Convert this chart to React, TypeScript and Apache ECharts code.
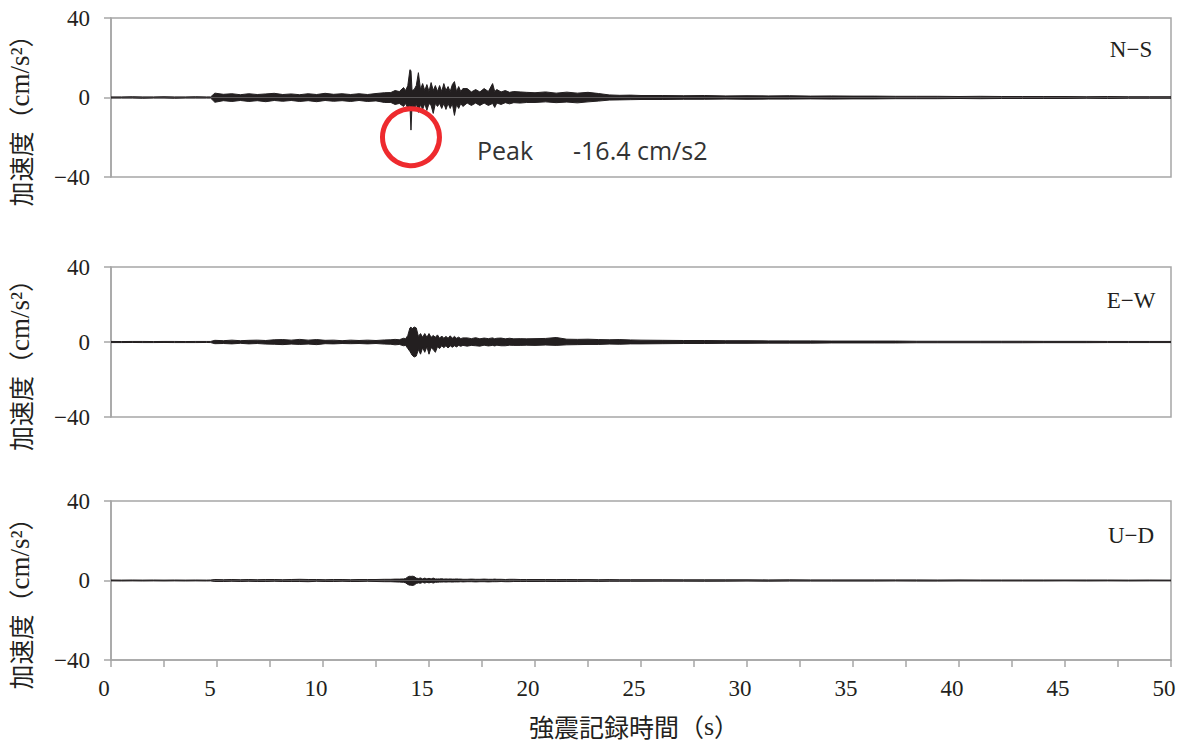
import React, { useEffect, useRef } from "react";
import * as echarts from "echarts";

// time knots (s)
const T = [
  0, 0.5, 1, 1.5, 2, 2.5, 3, 3.5, 4, 4.5, 4.7,
  4.9, 5.3, 5.7, 6.1, 6.5, 6.9, 7.3, 7.7, 8.1, 8.5, 8.9, 9.3, 9.7, 10.1, 10.5, 10.9, 11.3, 11.7, 12.1, 12.5, 12.9,
  13.2, 13.4, 13.6, 13.8, 13.9, 14.0, 14.1, 14.15, 14.2,
  14.3, 14.4, 14.5, 14.6, 14.7, 14.8, 14.9, 15.0, 15.1, 15.2, 15.3, 15.4,
  15.5, 15.6, 15.7, 15.8, 15.9, 16.0, 16.1, 16.2, 16.3, 16.4, 16.5, 16.6,
  16.8, 17.0, 17.2, 17.4, 17.6, 17.8, 18.0, 18.1, 18.2, 18.4, 18.6, 18.8, 19.0,
  19.3, 19.6,
  20, 20.5, 21, 21.5, 22, 22.5, 23, 23.5, 24, 24.5, 25,
  26, 27, 28, 29, 30, 31, 32, 33, 34, 35, 36, 37, 38, 39, 40, 41, 42, 43, 44, 45, 46, 47, 48, 49, 50,
];

// N-S upper / lower envelopes (cm/s2)
const nsUp = [
  0.3, 0.3, 0.4, 0.3, 0.3, 0.4, 0.3, 0.3, 0.4, 0.3, 0.3,
  2.2, 1.6, 1.9, 1.4, 1.9, 1.5, 1.8, 2.1, 1.5, 1.8, 1.4, 1.9, 1.5, 2.1, 1.6, 1.9, 1.5, 1.9, 1.5, 2.0, 2.4,
  2.5, 3.5, 3.0, 5.0, 3.5, 6.0, 14.0, 13.5, 3.5,
  4.0, 6.0, 12.5, 4.0, 7.0, 3.5, 6.5, 3.0, 7.5, 3.5, 6.0, 3.0,
  6.0, 3.0, 7.0, 3.5, 5.5, 3.0, 6.5, 8.0, 3.0, 5.5, 3.0, 4.5,
  4.5, 2.8, 4.0, 2.8, 4.5, 3.0, 7.0, 3.0, 4.0, 2.8, 3.5, 2.6, 3.0,
  2.8, 2.6,
  2.4, 2.8, 2.2, 2.7, 2.2, 2.6, 2.0, 1.3, 1.1, 1.2, 1.0,
  1.0, 0.9, 1.0, 0.8, 0.9, 0.8, 0.9, 0.7, 0.8, 0.7, 0.7, 0.6, 0.6, 0.6, 0.5, 0.6, 0.5, 0.5, 0.5, 0.5, 0.4, 0.5, 0.4, 0.4, 0.4,
];
const nsLo = [
  -0.3, -0.3, -0.3, -0.4, -0.3, -0.3, -0.4, -0.3, -0.3, -0.3, -0.3,
  -2.4, -1.6, -2.0, -1.5, -2.0, -1.6, -2.1, -1.5, -1.9, -1.5, -2.0, -1.6, -2.1, -1.5, -1.9, -1.6, -2.0, -1.5, -2.0, -1.7, -2.5,
  -2.5, -3.5, -3.0, -4.5, -3.0, -5.5, -4.0, -16.4, -4.0,
  -6.5, -3.0, -7.5, -3.5, -6.0, -3.0, -6.5, -3.0, -4.0, -8.0, -3.0, -4.5,
  -3.0, -5.5, -3.0, -6.0, -3.0, -5.5, -3.0, -9.0, -3.5, -5.5, -3.0, -4.5,
  -2.8, -4.0, -2.8, -4.0, -2.8, -4.0, -3.0, -5.0, -2.8, -3.5, -2.6, -3.2, -2.6,
  -2.8, -2.5,
  -2.5, -2.2, -2.6, -2.3, -2.7, -2.2, -1.8, -1.3, -1.2, -1.1, -1.0,
  -1.0, -0.9, -0.9, -0.8, -0.9, -0.8, -0.8, -0.7, -0.8, -0.7, -0.7, -0.6, -0.6, -0.6, -0.5, -0.6, -0.5, -0.5, -0.5, -0.5, -0.4, -0.5, -0.4, -0.4, -0.4,
];

// E-W
const ewUp = [
  0.3, 0.25, 0.3, 0.3, 0.25, 0.3, 0.3, 0.25, 0.3, 0.3, 0.3,
  0.9, 0.7, 1.0, 0.7, 0.9, 1.0, 0.8, 1.2, 1.3, 1.0, 1.4, 1.0, 1.3, 0.9, 1.0, 0.7, 1.0, 0.8, 1.0, 0.8, 1.1,
  1.2, 1.4, 1.2, 2.0, 1.8, 3.5, 7.5, 8.0, 7.0,
  8.0, 7.5, 3.0, 4.5, 2.5, 4.5, 2.5, 4.5, 2.5, 3.5, 2.5, 3.8,
  2.0, 3.2, 2.0, 3.0, 2.0, 3.3, 2.0, 3.0, 2.0, 2.6, 1.8, 2.2,
  2.2, 1.8, 2.3, 1.7, 2.1, 1.8, 2.2, 1.7, 2.0, 2.1, 1.7, 2.0, 1.7,
  1.8, 1.7,
  1.8, 1.9, 2.4, 1.5, 1.4, 1.5, 1.3, 1.2, 1.3, 1.1, 1.0,
  0.9, 0.8, 0.8, 0.7, 0.7, 0.6, 0.6, 0.6, 0.5, 0.5, 0.5, 0.5, 0.4, 0.4, 0.4, 0.4, 0.4, 0.4, 0.35, 0.35, 0.35, 0.3, 0.3, 0.3, 0.3,
];
const ewLo = [
  -0.3, -0.3, -0.25, -0.3, -0.3, -0.25, -0.3, -0.3, -0.3, -0.25, -0.3,
  -0.9, -0.8, -1.0, -0.7, -1.0, -0.8, -1.1, -1.2, -1.4, -1.1, -1.3, -1.1, -1.4, -0.9, -1.0, -0.8, -0.9, -0.8, -1.0, -0.8, -1.1,
  -1.2, -1.5, -1.3, -2.0, -1.8, -3.5, -5.0, -6.0, -7.0,
  -8.0, -7.5, -4.0, -6.5, -3.0, -5.5, -2.5, -6.5, -3.0, -4.0, -5.5, -2.5,
  -3.5, -2.0, -3.0, -2.0, -3.2, -2.0, -2.8, -2.0, -2.6, -1.8, -2.3, -1.8,
  -2.2, -1.8, -2.0, -2.2, -1.7, -2.1, -1.8, -2.1, -1.7, -2.0, -2.0, -1.7, -1.8,
  -1.8, -1.7,
  -1.8, -1.6, -1.8, -1.5, -1.4, -1.3, -1.3, -1.1, -1.2, -1.0, -1.0,
  -0.9, -0.8, -0.8, -0.7, -0.7, -0.6, -0.6, -0.6, -0.5, -0.5, -0.5, -0.5, -0.4, -0.4, -0.4, -0.4, -0.4, -0.4, -0.35, -0.35, -0.35, -0.3, -0.3, -0.3, -0.3,
];

// U-D
const udUp = [
  0.25, 0.2, 0.25, 0.2, 0.25, 0.2, 0.25, 0.2, 0.25, 0.2, 0.25,
  0.5, 0.4, 0.5, 0.4, 0.5, 0.4, 0.5, 0.5, 0.4, 0.5, 0.6, 0.5, 0.5, 0.4, 0.5, 0.5, 0.4, 0.5, 0.5, 0.5, 0.6,
  0.6, 0.7, 0.7, 0.8, 1.0, 1.8, 2.2, 2.0, 2.2,
  2.0, 1.2, 1.0, 1.3, 0.8, 1.2, 0.8, 1.1, 0.8, 1.2, 0.8, 0.8,
  0.8, 0.9, 0.7, 0.8, 0.7, 0.8, 0.7, 0.7, 0.8, 0.7, 0.7, 0.6,
  0.6, 0.7, 0.6, 0.6, 0.7, 0.6, 0.6, 0.7, 0.6, 0.6, 0.5, 0.6, 0.6,
  0.5, 0.5,
  0.5, 0.5, 0.45, 0.5, 0.45, 0.45, 0.4, 0.45, 0.4, 0.4, 0.4,
  0.4, 0.35, 0.35, 0.35, 0.35, 0.3, 0.35, 0.3, 0.3, 0.3, 0.3, 0.3, 0.3, 0.25, 0.3, 0.25, 0.25, 0.25, 0.25, 0.25, 0.25, 0.25, 0.2, 0.25, 0.2,
];
const udLo = [
  -0.2, -0.25, -0.2, -0.25, -0.2, -0.25, -0.2, -0.25, -0.2, -0.25, -0.2,
  -0.5, -0.5, -0.4, -0.5, -0.4, -0.5, -0.5, -0.4, -0.5, -0.5, -0.5, -0.6, -0.4, -0.5, -0.5, -0.4, -0.5, -0.5, -0.4, -0.5, -0.6,
  -0.6, -0.7, -0.8, -0.9, -1.2, -2.0, -2.4, -2.3, -2.5,
  -2.3, -1.5, -1.2, -1.4, -0.9, -1.3, -0.9, -1.2, -0.9, -1.3, -0.9, -0.9,
  -0.8, -0.8, -0.7, -0.8, -0.7, -0.7, -0.8, -0.7, -0.7, -0.7, -0.6, -0.7,
  -0.6, -0.6, -0.7, -0.6, -0.6, -0.7, -0.6, -0.6, -0.6, -0.5, -0.6, -0.6, -0.5,
  -0.5, -0.5,
  -0.5, -0.45, -0.5, -0.45, -0.45, -0.4, -0.45, -0.4, -0.4, -0.4, -0.4,
  -0.35, -0.35, -0.4, -0.35, -0.3, -0.35, -0.3, -0.3, -0.3, -0.3, -0.3, -0.25, -0.3, -0.3, -0.25, -0.25, -0.25, -0.25, -0.25, -0.2, -0.25, -0.2, -0.25, -0.2, -0.2,
];

const components = ["N-S", "E-W", "U-D"];
const xTicks = { min: 0, max: 50, step: 5 };
const yTicks = { min: -40, max: 40, step: 40 };
const peakTime = 14.15;
const peakValue = -16.4;
const peakCircleValue = -20;

const yNameParts = ["加速度", "（", "cm/s²", "）"];
const xNameParts = ["強震記録時間", "（", "s", "）"];

const INK = "#231f20";
const GRAY = "#a6a6a6";
const SERIF = "Liberation Serif";
const CJK = "Noto Sans CJK JP";

const minusFmt = (v: number) => String(v).replace("-", "−");

export default function App() {
  const ref = useRef<HTMLDivElement>(null);

  useEffect(() => {
    if (!ref.current) return;
    const chart = echarts.init(ref.current, null, { renderer: "svg" });

    const grids = [
      { left: 111, top: 18, width: 1060, height: 159 },
      { left: 111, top: 267, width: 1060, height: 150 },
      { left: 111, top: 501, width: 1060, height: 159 },
    ].map((g) => ({ ...g, show: true, borderColor: GRAY, borderWidth: 1.5, backgroundColor: "transparent" }));

    const env = [
      [nsUp, nsLo],
      [ewUp, ewLo],
      [udUp, udLo],
    ];

    const xAxis = [0, 1, 2].map((i) => ({
      type: "value",
      gridIndex: i,
      min: xTicks.min,
      max: xTicks.max,
      interval: xTicks.step,
      axisLine: { show: i === 2, onZero: false, lineStyle: { color: GRAY, width: 1.5 } },
      axisTick: { show: i === 2, length: 7, lineStyle: { color: GRAY, width: 1.5 } },
      minorTick: { show: i === 2, splitNumber: 2, length: 7, lineStyle: { color: GRAY, width: 1.5 } },
      axisLabel: {
        show: i === 2,
        margin: 17,
        fontSize: 23,
        fontFamily: SERIF,
        color: INK,
        padding: [0, 14, 0, 0],
      },
      splitLine: { show: false },
      minorSplitLine: { show: false },
    }));

    const yAxis = [0, 1, 2].map((i) => ({
      type: "value",
      gridIndex: i,
      min: yTicks.min,
      max: yTicks.max,
      interval: yTicks.step,
      axisLine: { show: true, onZero: false, lineStyle: { color: GRAY, width: 1.5 } },
      axisTick: { show: true, length: 7, lineStyle: { color: GRAY, width: 1.5 } },
      axisLabel: { margin: 21, fontSize: 23, fontFamily: SERIF, color: INK, formatter: minusFmt },
      splitLine: { show: false },
    }));

    const series: any[] = [];
    env.forEach(([up, lo], i) => {
      [up, lo].forEach((arr, k) => {
        const s: any = {
          type: "line",
          name: components[i] + (k === 0 ? " upper" : " lower"),
          xAxisIndex: i,
          yAxisIndex: i,
          data: arr.map((v, j) => [T[j], v]),
          symbol: "none",
          showSymbol: false,
          lineStyle: { color: INK, width: 1 },
          areaStyle: { color: INK, opacity: 1, origin: 0 },
          z: 2,
        };
        if (i === 0 && k === 1) {
          s.markPoint = {
            silent: true,
            symbol: "circle",
            symbolSize: 57,
            itemStyle: { color: "rgba(0,0,0,0)", borderColor: "#ee2a2e", borderWidth: 5 },
            label: { show: false },
            data: [{ coord: [peakTime, peakCircleValue] }],
            z: 5,
          };
        }
        series.push(s);
      });
    });

    const richName = (parts: string[], cjkSize: number, latinSize: number) => ({
      text: `{c|${parts[0]}}{p|${parts[1]}}{l|${parts[2]}}{p|${parts[3]}}`,
      rich: {
        c: { fontSize: cjkSize, fontFamily: CJK, fill: INK },
        p: { fontSize: cjkSize, fontFamily: CJK, fill: INK },
        l: { fontSize: latinSize, fontFamily: SERIF, fill: INK },
      },
      fill: INK,
      align: "center",
      verticalAlign: "middle",
    });

    const panelCenters = [97.5, 342, 580.5];
    const labelY = [49, 300, 535];

    const graphic: any[] = [];
    panelCenters.forEach((c) => {
      graphic.push({
        type: "text",
        x: 20,
        y: c + 17,
        rotation: Math.PI / 2,
        style: richName(yNameParts, 25, 27),
      });
    });
    components.forEach((name, i) => {
      graphic.push({
        type: "text",
        x: 1131,
        y: labelY[i],
        style: {
          text: name.replace("-", "−"),
          fontSize: 23,
          fontFamily: SERIF,
          fill: INK,
          align: "center",
          verticalAlign: "middle",
        },
      });
    });
    graphic.push({
      type: "text",
      x: 477,
      y: 150,
      style: { text: "Peak", fontSize: 25, fontFamily: "Open Sans", fill: "#333333", align: "left", verticalAlign: "middle" },
    });
    graphic.push({
      type: "text",
      x: 573,
      y: 150,
      style: { text: `${peakValue} cm/s2`, fontSize: 25, fontFamily: "Open Sans", fill: "#333333", align: "left", verticalAlign: "middle" },
    });
    graphic.push({
      type: "text",
      x: 634,
      y: 726,
      style: richName(xNameParts, 25, 26),
    });

    chart.setOption({
      animation: false,
      backgroundColor: "#ffffff",
      grid: grids,
      xAxis,
      yAxis,
      series,
      graphic,
    });

    return () => chart.dispose();
  }, []);

  return (
    <div
      ref={ref}
      style={{ position: "fixed", left: 0, top: 0, width: 1187, height: 744 }}
    />
  );
}
